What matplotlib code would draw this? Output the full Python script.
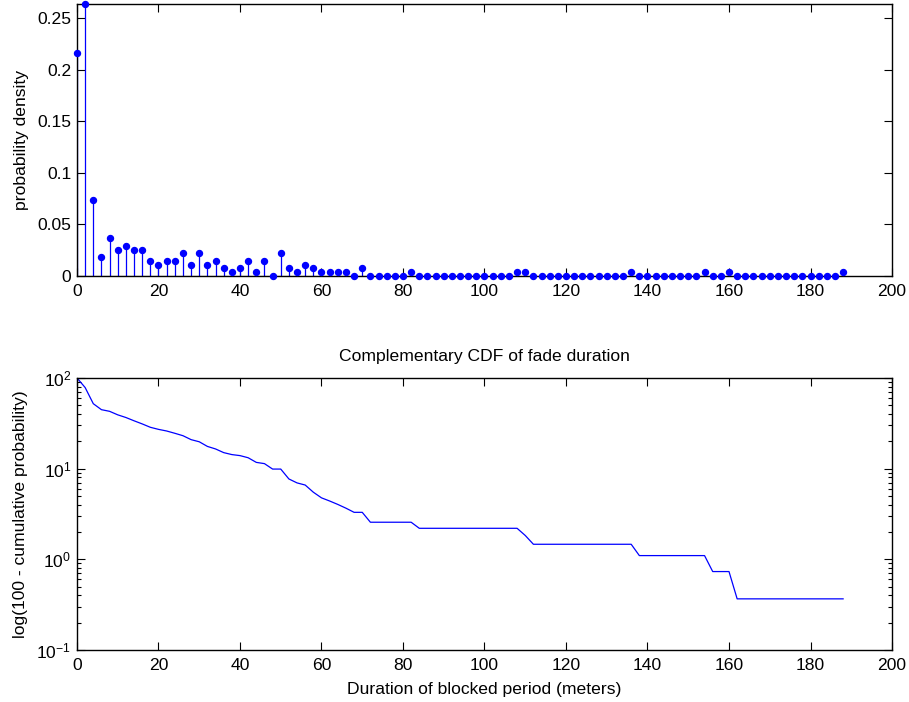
import numpy as np
import matplotlib
matplotlib.use('Agg')
import matplotlib.pyplot as plt
from matplotlib.ticker import FormatStrFormatter, LogLocator

plt.rcParams['font.family'] = ['Liberation Sans', 'DejaVu Sans']
plt.rcParams['font.size'] = 12.6
plt.rcParams['mathtext.fontset'] = 'custom'
plt.rcParams['mathtext.rm'] = 'Liberation Sans'

# fade duration bins (meters) and number of blocked periods in each bin
durations = np.arange(0, 189, 2)
counts = [59, 72, 20, 5, 10, 7, 8, 7, 7, 4,
          3, 4, 4, 6, 3, 6, 3, 4, 2, 1,
          2, 4, 1, 4, 0, 6, 2, 1, 3, 2,
          1, 1, 1, 1, 0, 2,
          0, 0, 0, 0, 0,
          1,
          0, 0, 0, 0, 0, 0, 0, 0, 0, 0, 0, 0,
          1, 1,
          0, 0, 0, 0, 0, 0, 0, 0, 0, 0, 0, 0,
          1,
          0, 0, 0, 0, 0, 0, 0, 0,
          1,
          0, 0,
          1,
          0, 0, 0, 0, 0, 0, 0, 0, 0, 0, 0, 0, 0,
          1]

counts = np.array(counts, dtype=float)
pdf = counts / counts.sum()
# percentage of periods not yet reached at each bin
ccdf = 100 * (1 - np.concatenate([[0], np.cumsum(pdf)[:-1]]))

blue = (0, 0, 1)

fig = plt.figure(figsize=(9.09, 7.02), dpi=100)
ax1 = fig.add_axes([0.0847, 0.6068, 0.8966, 0.3875])
ax2 = fig.add_axes([0.0847, 0.0741, 0.8966, 0.3875])

ml, sl, bl = ax1.stem(durations, pdf, linefmt='-', markerfmt='o', basefmt='k-')
plt.setp(sl, color=blue, linewidth=0.9)
plt.setp(ml, color=blue, markersize=4.3, clip_on=False, zorder=3)
plt.setp(bl, linewidth=0.8)
ax1.set_xlim(0, 200)
ax1.set_ylim(0, pdf.max())
ax1.set_xticks(range(0, 201, 20))
ax1.set_yticks([0, 0.05, 0.1, 0.15, 0.2, 0.25])
ax1.yaxis.set_major_formatter(FormatStrFormatter('%g'))
ax1.set_ylabel('probability density', labelpad=6)

ax2.semilogy(durations, ccdf, color=blue, linewidth=0.9)
ax2.set_xlim(0, 200)
ax2.set_ylim(0.1, 100)
ax2.set_xticks(range(0, 201, 20))
ax2.yaxis.set_major_locator(LogLocator(base=10, numticks=10))
ax2.yaxis.set_minor_locator(LogLocator(base=10, subs=np.arange(2, 10), numticks=10))
ax2.set_title('Complementary CDF of fade duration', fontsize=12.6, pad=12)
ax2.set_xlabel('Duration of blocked period (meters)', labelpad=6)
ax2.set_ylabel('log(100 - cumulative probability)', labelpad=6)

for ax in (ax1, ax2):
    for s in ax.spines.values():
        s.set_linewidth(1.0)
    ax.tick_params(which='major', direction='in', length=5.8, width=0.8,
                   top=True, right=True, labelsize=12.6, pad=4)
    ax.tick_params(which='minor', direction='in', length=2.9, width=0.8,
                   top=False, right=True)
    ax.tick_params(axis='x', which='major', pad=6)

plt.savefig('out.png', dpi=100)
